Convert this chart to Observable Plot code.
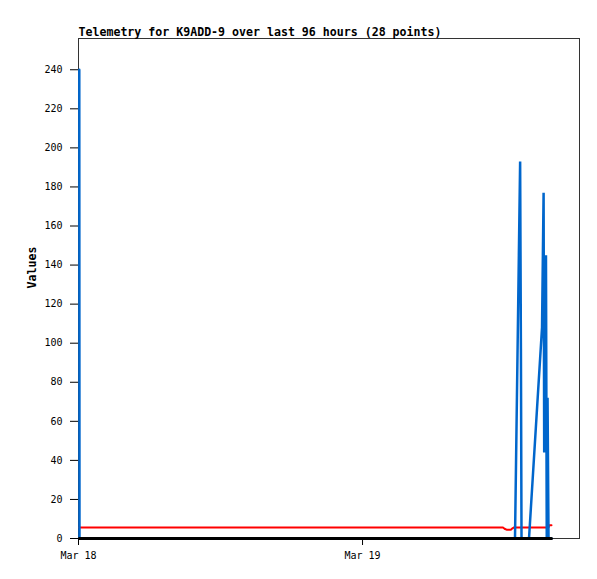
<!DOCTYPE html>
<html>
<head>
<meta charset="utf-8">
<script src="https://cdn.jsdelivr.net/npm/d3@7"></script>
<script src="https://cdn.jsdelivr.net/npm/@observablehq/plot@0.6"></script>
<style>
  html, body { margin: 0; padding: 0; background: #fff; }
</style>
</head>
<body>
<div id="chart"></div>
<script>
// Telemetry sample times (UTC)
const times = [
  "2024-03-18T00:04", "2024-03-18T00:05",
  "2024-03-19T11:52", "2024-03-19T12:00", "2024-03-19T12:10", "2024-03-19T12:33",
  "2024-03-19T12:38", "2024-03-19T12:46", "2024-03-19T12:53", "2024-03-19T13:19",
  "2024-03-19T13:23", "2024-03-19T13:26", "2024-03-19T14:04", "2024-03-19T15:10",
  "2024-03-19T15:18", "2024-03-19T15:21", "2024-03-19T15:30", "2024-03-19T15:34",
  "2024-03-19T15:38", "2024-03-19T15:43", "2024-03-19T15:46", "2024-03-19T15:58"
];
// Series values (one per time)
const blueValues  = [240, 0, 0, 0, 0, 0, 0, 0, 0, 193, 97, 0, 0, 108, 177, 44, 145, 0, 72, 0, 0, 0];
const redValues   = [5.6, 5.6, 5.6, 5.0, 4.5, 4.5, 5.1, 5.6, 5.6, 5.6, 5.6, 5.6, 5.6, 5.6, 5.6, 5.6, 5.6, 5.6, 5.6, 5.6, 6.8, 6.8];
const blackValues = [0, 0, 0, 0, 0, 0, 0, 0, 0, 0, 0, 0, 0, 0, 0, 0, 0, 0, 0, 0, 0, 0];
// Axes
const yTicks = [0, 20, 40, 60, 80, 100, 120, 140, 160, 180, 200, 220, 240];
const xTicks = ["2024-03-18T00:00", "2024-03-19T00:00"];
const xDomain = ["2024-03-18T00:00", "2024-03-19T18:20"];
const yDomain = [0, 256];
const title = "Telemetry for K9ADD-9 over last 96 hours (28 points)";
const yLabel = "Values";

const parse = s => new Date(s + ":00Z");
const series = (vals) => times.map((t, i) => ({t: parse(t), v: vals[i]}));
const fmt = d3.utcFormat("%b %d");
const mono = "'DejaVu Sans Mono', 'Liberation Mono', monospace";

const chart = Plot.plot({
  width: 597,
  height: 579,
  marginTop: 38,
  marginLeft: 78,
  marginRight: 18,
  marginBottom: 41,
  style: {fontFamily: mono, fontSize: "10px", color: "#000", background: "#fff"},
  x: {type: "utc", domain: xDomain.map(parse)},
  y: {domain: yDomain},
  marks: [
    Plot.frame({stroke: "#333", strokeWidth: 1, shapeRendering: "crispEdges"}),
    Plot.line(series(redValues), {x: "t", y: "v", stroke: "#ff0000", strokeWidth: 2}),
    Plot.line(series(blueValues), {x: "t", y: "v", stroke: "#0066cc", strokeWidth: 2.5, strokeLinejoin: "miter", strokeMiterlimit: 1}),
    Plot.line(series(blackValues), {x: "t", y: "v", stroke: "#000000", strokeWidth: 3}),
    Plot.axisY({ticks: yTicks, tickSize: 8, tickPadding: 8, label: null, tickFormat: d => String(d)}),
    Plot.axisX({ticks: xTicks.map(parse), tickSize: 7, tickPadding: 6, label: null, tickFormat: fmt}),
    Plot.text([title], {frameAnchor: "top-left", dy: -3, lineAnchor: "bottom", textAnchor: "start",
      fontWeight: "bold", fontSize: 11.6, fill: "#000"}),
    Plot.text([yLabel], {frameAnchor: "left", dx: -46, rotate: -90, fontWeight: "bold", fontSize: 11.6, fill: "#000"})
  ]
});
document.getElementById("chart").appendChild(chart);
</script>
</body>
</html>
